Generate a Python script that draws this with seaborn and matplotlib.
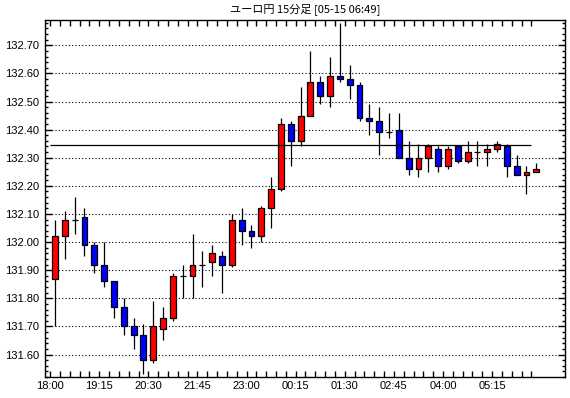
import numpy as np
import pandas as pd
import seaborn as sns
import matplotlib.pyplot as plt
from matplotlib.ticker import MultipleLocator, FormatStrFormatter

# EUR/JPY 15-minute candles (18:00 -> 06:15)
opens = [131.87, 132.02, 132.08, 132.09, 131.99, 131.92, 131.86, 131.77, 131.70, 131.67,
         131.58, 131.69, 131.73, 131.88, 131.88, 131.92, 131.93, 131.95, 131.92, 132.08,
         132.04, 132.02, 132.12, 132.19, 132.42, 132.36, 132.45, 132.57, 132.52, 132.59,
         132.58, 132.56, 132.44, 132.43, 132.39, 132.40, 132.30, 132.26, 132.30, 132.33,
         132.27, 132.34, 132.29, 132.32, 132.32, 132.33, 132.34, 132.27, 132.24, 132.25]
highs = [132.08, 132.11, 132.16, 132.12, 132.00, 132.00, 131.86, 131.80, 131.73, 131.71,
         131.79, 131.77, 131.89, 131.92, 132.03, 131.97, 131.99, 131.97, 132.10, 132.12,
         132.06, 132.13, 132.23, 132.44, 132.43, 132.55, 132.68, 132.59, 132.66, 132.78,
         132.63, 132.57, 132.49, 132.48, 132.46, 132.46, 132.36, 132.35, 132.35, 132.34,
         132.34, 132.34, 132.36, 132.36, 132.35, 132.36, 132.35, 132.31, 132.27, 132.28]
lows = [131.70, 131.94, 132.03, 131.95, 131.89, 131.84, 131.73, 131.67, 131.62, 131.53,
        131.57, 131.65, 131.72, 131.80, 131.80, 131.84, 131.88, 131.82, 131.91, 131.99,
        131.98, 132.00, 132.05, 132.18, 132.27, 132.34, 132.45, 132.49, 132.48, 132.57,
        132.51, 132.43, 132.38, 132.31, 132.37, 132.30, 132.24, 132.23, 132.25, 132.25,
        132.26, 132.28, 132.28, 132.27, 132.27, 132.32, 132.23, 132.24, 132.17, 132.25]
closes = [132.02, 132.08, 132.08, 131.99, 131.92, 131.86, 131.77, 131.70, 131.67, 131.58,
          131.70, 131.73, 131.88, 131.88, 131.92, 131.92, 131.96, 131.92, 132.08, 132.04,
          132.02, 132.12, 132.19, 132.42, 132.36, 132.45, 132.57, 132.52, 132.59, 132.58,
          132.56, 132.44, 132.43, 132.39, 132.39, 132.30, 132.26, 132.30, 132.34, 132.27,
          132.33, 132.29, 132.32, 132.32, 132.33, 132.35, 132.27, 132.24, 132.25, 132.26]
time_labels = ["18:00", "19:15", "20:30", "21:45", "23:00",
               "00:15", "01:30", "02:45", "04:00", "05:15"]
ref_price = 132.346
title = "ユーロ円 15分足 [05-15 06:49]"

df = pd.DataFrame({"open": opens, "high": highs, "low": lows, "close": closes})
df["pos"] = np.arange(len(df))
df["bottom"] = df[["open", "close"]].min(axis=1)
df["body"] = (df["close"] - df["open"]).abs()
df["color"] = np.where(df["close"] >= df["open"], "#ff0000", "#0000ff")

sns.set_theme(style="white", rc={
    "axes.edgecolor": "black", "text.color": "black",
    "xtick.color": "black", "ytick.color": "black",
    "axes.linewidth": 1.0,
})
plt.rcParams["font.family"] = ["Liberation Sans", "Noto Sans CJK JP", "DejaVu Sans"]

fig = plt.figure(figsize=(5.7, 3.98), dpi=100)
ax = fig.add_axes([45 / 570, 21 / 398, 520 / 570, 357 / 398])

# wicks + bodies
ax.vlines(df["pos"], df["low"], df["high"], color="black", lw=0.9, zorder=2)
ax.bar(df["pos"], df["body"], bottom=df["bottom"], width=0.6,
       color=df["color"], edgecolor="black", linewidth=0.9, zorder=3)

# reference line
ax.hlines(ref_price, -0.5, len(df) - 1.5, color="black", lw=0.9, zorder=4)

ax.set_xlim(-1.02, 51.92)
ax.set_ylim(131.52, 132.79)

ax.yaxis.set_major_locator(MultipleLocator(0.10))
ax.yaxis.set_minor_locator(MultipleLocator(0.02))
ax.yaxis.set_major_formatter(FormatStrFormatter("%.2f"))
ax.grid(axis="y", which="major", color="black", linestyle=(0, (1, 2)), lw=0.8)
ax.set_axisbelow(True)

xt = df["pos"] - 0.5
ax.set_xticks(xt)
ax.set_xticklabels([time_labels[i // 5] if i % 5 == 0 else "" for i in range(len(df))])

ax.tick_params(axis="x", which="major", direction="in", top=True, bottom=True,
               length=4.5, width=1, pad=3, labelsize=8)
ax.tick_params(axis="y", which="major", direction="in", left=True, right=True,
               length=5, width=1, pad=4, labelsize=8)
ax.tick_params(axis="y", which="minor", direction="in", left=True, right=True,
               length=2.5, width=1)

fig.text(305 / 570, 1 - 9 / 398, title, ha="center", va="center", fontsize=8,
         family=["Noto Sans CJK JP", "DejaVu Sans"])

fig.savefig("out.png", dpi=100)
